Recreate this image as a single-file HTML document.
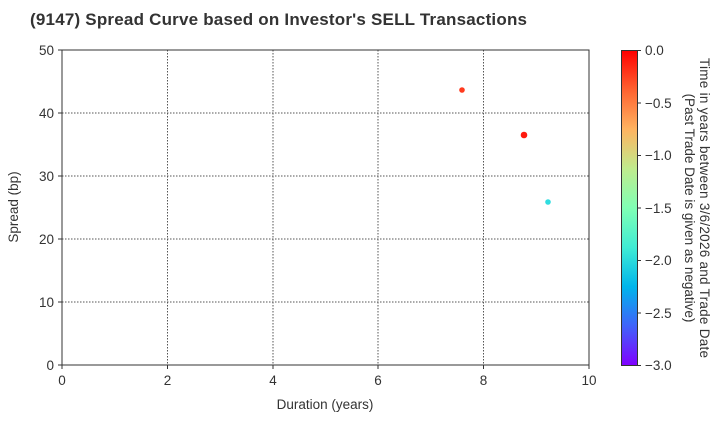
<!DOCTYPE html>
<html><head><meta charset="utf-8"><style>
body{margin:0;background:#fff;}
text{font-family:"Liberation Sans",sans-serif;fill:#333;}
</style></head><body>
<svg width="720" height="420" xmlns="http://www.w3.org/2000/svg">
<defs>
<linearGradient id="rb" x1="0" y1="1" x2="0" y2="0">
<stop offset="0" stop-color="#8000ff"/>
<stop offset="0.125" stop-color="#4062fa"/>
<stop offset="0.25" stop-color="#00b5eb"/>
<stop offset="0.375" stop-color="#40ecd4"/>
<stop offset="0.5" stop-color="#80ffb4"/>
<stop offset="0.625" stop-color="#c0eb8d"/>
<stop offset="0.75" stop-color="#ffb360"/>
<stop offset="0.875" stop-color="#ff6230"/>
<stop offset="1" stop-color="#ff0000"/>
</linearGradient>
</defs>
<text x="30" y="25" font-size="17" font-weight="bold" textLength="497" style="fill:#333">(9147)   Spread Curve based on Investor's SELL Transactions</text>
<g stroke="#555" stroke-width="1" stroke-dasharray="1.5,1.5">
<line x1="167.5" y1="50" x2="167.5" y2="365"/>
<line x1="273" y1="50" x2="273" y2="365"/>
<line x1="378" y1="50" x2="378" y2="365"/>
<line x1="483.5" y1="50" x2="483.5" y2="365"/>
<line x1="62" y1="302" x2="589" y2="302"/>
<line x1="62" y1="239" x2="589" y2="239"/>
<line x1="62" y1="176" x2="589" y2="176"/>
<line x1="62" y1="113" x2="589" y2="113"/>
</g>
<rect x="62" y="50" width="527" height="315" fill="none" stroke="#333" stroke-width="1"/>
<g stroke="#333">
<line x1="62" y1="365" x2="62" y2="369"/><line x1="167.5" y1="365" x2="167.5" y2="369"/><line x1="273" y1="365" x2="273" y2="369"/><line x1="378" y1="365" x2="378" y2="369"/><line x1="483.5" y1="365" x2="483.5" y2="369"/><line x1="589" y1="365" x2="589" y2="369"/>
<line x1="58" y1="365" x2="62" y2="365"/><line x1="58" y1="302" x2="62" y2="302"/><line x1="58" y1="239" x2="62" y2="239"/><line x1="58" y1="176" x2="62" y2="176"/><line x1="58" y1="113" x2="62" y2="113"/><line x1="58" y1="50" x2="62" y2="50"/>
</g>
<g font-size="13.5" text-anchor="middle">
<text x="62" y="385">0</text><text x="167.5" y="385">2</text><text x="273" y="385">4</text><text x="378" y="385">6</text><text x="483.5" y="385">8</text><text x="589" y="385">10</text>
</g>
<g font-size="13.5" text-anchor="end">
<text x="54" y="370">0</text><text x="54" y="307">10</text><text x="54" y="244">20</text><text x="54" y="181">30</text><text x="54" y="118">40</text><text x="54" y="55">50</text>
</g>
<text x="325" y="409" font-size="13.5" text-anchor="middle">Duration (years)</text>
<text transform="translate(18,207) rotate(-90)" font-size="13.5" text-anchor="middle">Spread (bp)</text>
<circle cx="462" cy="90" r="2.8" fill="#ff3a1e"/>
<circle cx="524" cy="135" r="3.3" fill="#ff1a0e"/>
<circle cx="548" cy="202" r="2.8" fill="#30dde0"/>
<rect x="621.5" y="50.5" width="16" height="315" fill="url(#rb)" stroke="#333" stroke-width="1"/>
<g stroke="#333">
<line x1="637.5" y1="50.5" x2="641" y2="50.5"/><line x1="637.5" y1="103" x2="641" y2="103"/><line x1="637.5" y1="155.5" x2="641" y2="155.5"/><line x1="637.5" y1="208" x2="641" y2="208"/><line x1="637.5" y1="260.5" x2="641" y2="260.5"/><line x1="637.5" y1="313" x2="641" y2="313"/><line x1="637.5" y1="365.5" x2="641" y2="365.5"/>
</g>
<g font-size="13.5">
<text x="645" y="55">0.0</text><text x="645" y="108">−0.5</text><text x="645" y="160">−1.0</text><text x="645" y="213">−1.5</text><text x="645" y="265">−2.0</text><text x="645" y="318">−2.5</text><text x="645" y="370">−3.0</text>
</g>
<text transform="translate(700,208) rotate(90)" font-size="13.5" text-anchor="middle" textLength="300">Time in years between 3/6/2026 and Trade Date</text>
<text transform="translate(685,208) rotate(90)" font-size="13.5" text-anchor="middle">(Past Trade Date is given as negative)</text>
</svg>
</body></html>
